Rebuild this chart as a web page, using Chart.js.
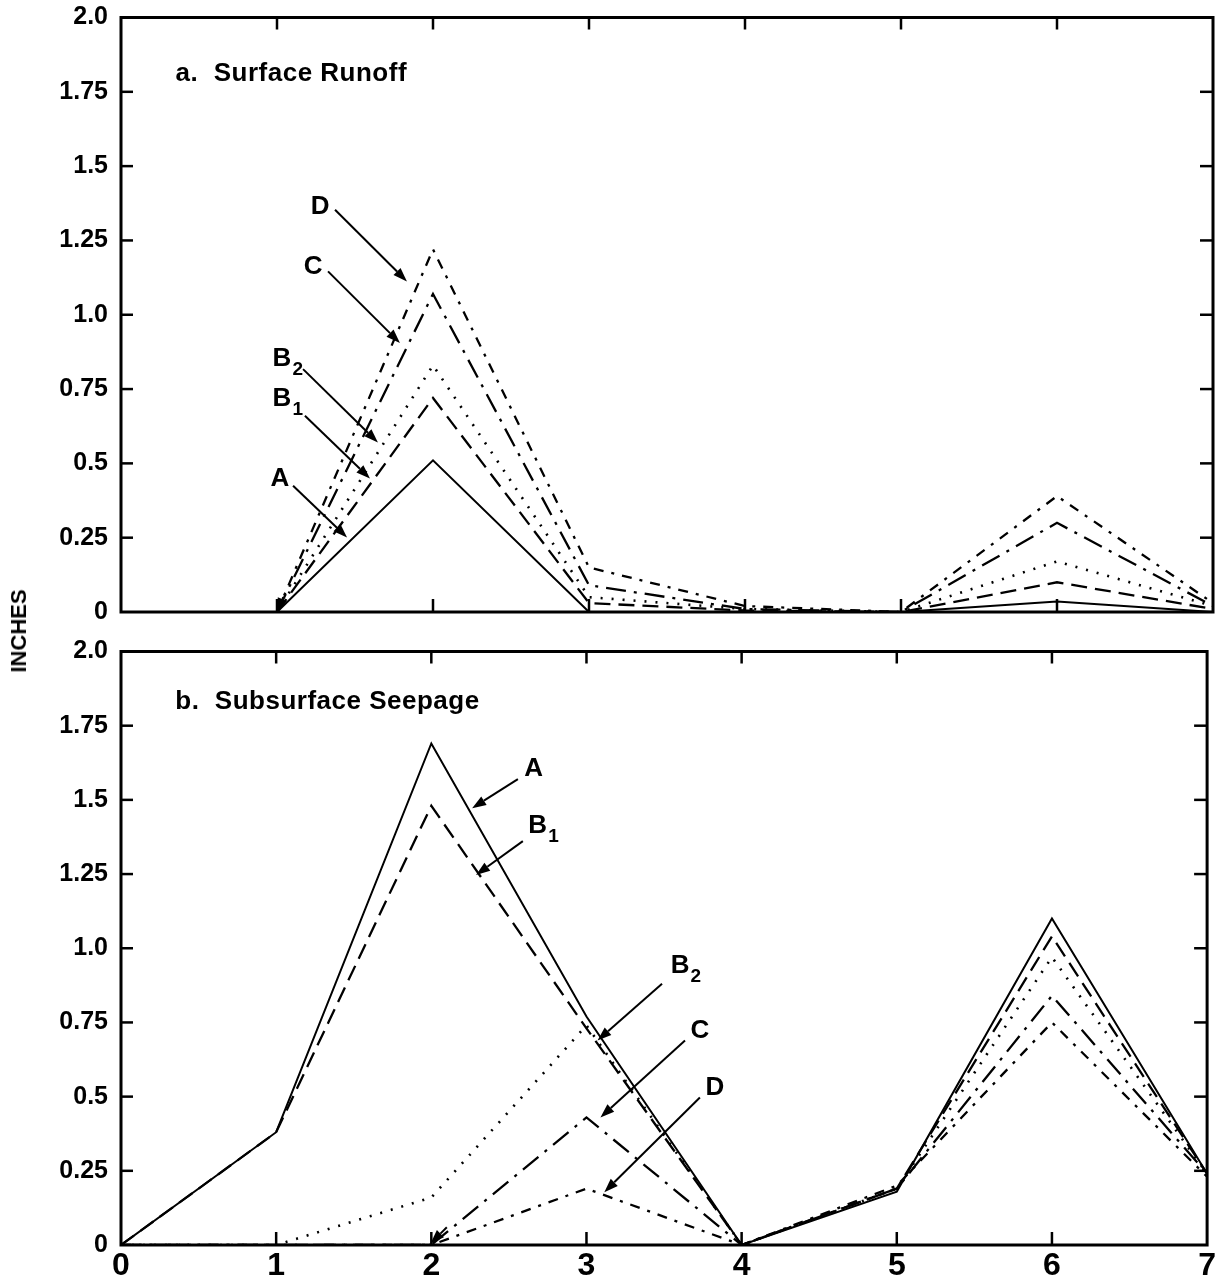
<!DOCTYPE html>
<html><head><meta charset="utf-8">
<script src="https://cdn.jsdelivr.net/npm/chart.js@4.4.1/dist/chart.umd.min.js"></script>
<style>
html,body{margin:0;padding:0;background:#fff;width:1221px;height:1283px;overflow:hidden;position:relative}
#c1{position:absolute;left:0;top:-8px}
#c2{position:absolute;left:0;top:626px}
#ylab{position:absolute;left:19px;top:631px;transform:translate(-50%,-50%) rotate(-90deg);font:bold 22px 'Liberation Sans',Arial,sans-serif;color:#000;white-space:nowrap}
</style></head><body>
<canvas id="c1" width="1221" height="648"></canvas>
<canvas id="c2" width="1221" height="657"></canvas>
<div id="ylab">INCHES</div>
<script>
// ---- data ----
const xValues = [0, 1, 2, 3, 4, 5, 6, 7];
const yTickLabels = ['0', '0.25', '0.5', '0.75', '1.0', '1.25', '1.5', '1.75', '2.0'];
const xTickLabels = ['0', '1', '2', '3', '4', '5', '6', '7'];
const seriesNames = ['A', 'B1', 'B2', 'C', 'D'];

// a. Surface Runoff
const runoffA  = [null, 0, 0.51, 0,    0,     0, 0.035, 0];
const runoffB1 = [null, 0, 0.72, 0.03, 0.005, 0, 0.10, 0.01];
const runoffB2 = [null, 0, 0.83, 0.05, 0.01,  0, 0.17, 0.02];
const runoffC  = [null, 0, 1.07, 0.09, 0.01,  0, 0.30, 0.02];
const runoffD  = [null, 0, 1.22, 0.15, 0.02,  0, 0.39, 0.03];

// b. Subsurface Seepage
const seepA  = [0, 0.38, 1.69, 0.77, 0, 0.18, 1.10, 0.24];
const seepB1 = [0, 0.38, 1.48, 0.73, 0, 0.19, 1.04, 0.24];
const seepB2 = [0, 0,    0.16, 0.74, 0, 0.19, 0.97, 0.24];
const seepC  = [0, 0,    0,    0.43, 0, 0.19, 0.84, 0.24];
const seepD  = [0, 0,    0,    0.19, 0, 0.20, 0.75, 0.23];

// ---- annotation text/arrows (data coordinates) ----
const runoffLabels = [
  {t:'D', s:'', x:1.276, y:1.363}, {t:'C', s:'', x:1.231, y:1.162},
  {t:'B', s:'2', x:1.032, y:0.851}, {t:'B', s:'1', x:1.032, y:0.717},
  {t:'A', s:'', x:1.019, y:0.449}];
const runoffArrows = [
  [1.372,1.353,1.833,1.112], [1.327,1.146,1.788,0.905],
  [1.167,0.817,1.647,0.570], [1.179,0.660,1.596,0.449],
  [1.103,0.425,1.449,0.251], [1.04,0.05,1.0,0.0]];
const seepLabels = [
  {t:'A', s:'', x:2.660, y:1.603}, {t:'B', s:'1', x:2.686, y:1.412},
  {t:'B', s:'2', x:3.603, y:0.941}, {t:'C', s:'', x:3.731, y:0.723},
  {t:'D', s:'', x:3.827, y:0.531}];
const seepArrows = [
  [2.558,1.570,2.263,1.472], [2.590,1.361,2.288,1.247],
  [3.487,0.880,3.071,0.689], [3.635,0.689,3.090,0.430],
  [3.731,0.497,3.115,0.178], [2.10,0.06,1.995,0.005]];
const titles = ['a.  Surface Runoff', 'b.  Subsurface Seepage'];

// ---- styles ----
const dashes = {A: [], B1: [16, 8], B2: [2, 9], C: [20, 8, 3, 8], D: [10, 8, 3, 8]};
const widths = {A: 2, B1: 2.3, B2: 2.6, C: 2.3, D: 2.3};
const FONT = "'Liberation Sans', Arial, sans-serif";
const NARROW = "'Liberation Sans Narrow', 'Liberation Sans', Arial, sans-serif";

function makeDatasets(arrs) {
  return arrs.map((arr, k) => ({
    label: seriesNames[k],
    data: xValues.map((x, i) => ({x: x, y: arr[i]})),
    borderColor: '#000', borderWidth: widths[seriesNames[k]],
    borderDash: dashes[seriesNames[k]], pointRadius: 0, tension: 0,
    fill: false, spanGaps: false, borderCapStyle: 'butt'
  }));
}

const framePlugin = {
  id: 'frame',
  afterDatasetsDraw(chart, args, opts) {
    const {ctx, chartArea: a, scales: {x, y}} = chart;
    ctx.save();
    ctx.strokeStyle = '#000'; ctx.fillStyle = '#000';
    ctx.setLineDash([]);
    ctx.lineWidth = 3;
    ctx.strokeRect(a.left, a.top, a.right - a.left, a.bottom - a.top);
    ctx.lineWidth = 2.5;
    const seg = (x1, y1, x2, y2) => { ctx.beginPath(); ctx.moveTo(x1, y1); ctx.lineTo(x2, y2); ctx.stroke(); };
    x.ticks.forEach(t => {
      if (t.value <= x.min || t.value >= x.max) return;
      const px = x.getPixelForValue(t.value);
      seg(px, a.top, px, a.top + 12); seg(px, a.bottom, px, a.bottom - 13);
    });
    y.ticks.forEach(t => {
      if (t.value <= y.min || t.value >= y.max) return;
      const py = y.getPixelForValue(t.value);
      seg(a.left, py, a.left + 12, py); seg(a.right, py, a.right - 13, py);
    });
    // title
    ctx.font = 'bold 26px ' + FONT; ctx.textAlign = 'left'; ctx.textBaseline = 'middle';
    try { ctx.letterSpacing = '0.5px'; } catch (e) {}
    ctx.fillText(opts.title, x.getPixelForValue(opts.titleX), y.getPixelForValue(opts.titleY));
    try { ctx.letterSpacing = '0px'; } catch (e) {}
    // labels
    opts.labels.forEach(l => {
      const px = x.getPixelForValue(l.x), py = y.getPixelForValue(l.y);
      ctx.font = 'bold 26px ' + FONT; ctx.textAlign = 'center'; ctx.textBaseline = 'middle';
      ctx.fillText(l.t, px, py);
      if (l.s) {
        const w = ctx.measureText(l.t).width;
        ctx.font = 'bold 19px ' + FONT; ctx.textAlign = 'left';
        ctx.fillText(l.s, px + w / 2 + 1, py + 11);
      }
    });
    // arrows
    ctx.lineWidth = 2;
    opts.arrows.forEach(ar => {
      const x1 = x.getPixelForValue(ar[0]), y1 = y.getPixelForValue(ar[1]);
      const x2 = x.getPixelForValue(ar[2]), y2 = y.getPixelForValue(ar[3]);
      const ang = Math.atan2(y2 - y1, x2 - x1), L = 14, H = 5;
      const bx = x2 - L * Math.cos(ang), by = y2 - L * Math.sin(ang);
      seg(x1, y1, bx, by);
      ctx.beginPath(); ctx.moveTo(x2, y2);
      ctx.lineTo(bx + H * Math.sin(ang), by - H * Math.cos(ang));
      ctx.lineTo(bx - H * Math.sin(ang), by + H * Math.cos(ang));
      ctx.closePath(); ctx.fill();
    });
    ctx.restore();
  }
};

function yScale() {
  return {
    type: 'linear', min: 0, max: 2,
    ticks: {stepSize: 0.25, color: '#000', padding: 13, font: {family: FONT, size: 25, weight: 'bold', lineHeight: 1},
      callback: (v, i) => yTickLabels[i]},
    grid: {display: false, drawTicks: false}, border: {display: false},
    afterFit: s => { s.width = 121; }
  };
}

function makeChart(id, arrs, showX, padding, xHeight, labels, arrows, title, titleY) {
  return new Chart(document.getElementById(id), {
    type: 'line',
    data: {datasets: makeDatasets(arrs)},
    options: {
      responsive: false, animation: false, devicePixelRatio: 1,
      layout: {padding: padding},
      plugins: {legend: {display: false}, tooltip: {enabled: false},
        frame: {labels: labels, arrows: arrows, title: title, titleX: 0.35, titleY: titleY}},
      scales: {
        x: {type: 'linear', min: 0, max: 7,
          ticks: {display: showX, stepSize: 1, autoSkip: false, maxRotation: 0, color: '#000', padding: 5,
            font: {family: NARROW, size: 32, weight: 'bold', lineHeight: 1}, callback: (v, i) => xTickLabels[i]},
          grid: {display: false, drawTicks: false}, border: {display: false},
          afterFit: s => { s.height = xHeight; }},
        y: yScale()
      }
    },
    plugins: [framePlugin]
  });
}

makeChart('c1', [runoffA, runoffB1, runoffB2, runoffC, runoffD], false,
  {top: 23, right: 8, bottom: 28, left: 0}, 0, runoffLabels, runoffArrows, titles[0], 1.81);
makeChart('c2', [seepA, seepB1, seepB2, seepC, seepD], true,
  {top: 24, right: 8, bottom: 0, left: 0}, 38, seepLabels, seepArrows, titles[1], 1.83);
</script>
</body></html>
